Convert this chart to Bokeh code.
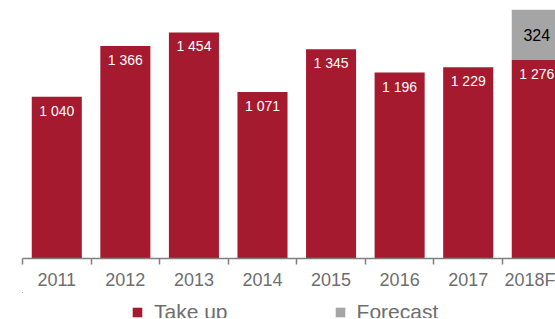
from bokeh.plotting import figure
from bokeh.layouts import column
from bokeh.models import (Range1d, LinearAxis, FixedTicker, CustomJSTickFormatter,
                          ColumnDataSource, Legend, LegendItem)
from bokeh.embed import file_html
from bokeh.resources import INLINE
from bokeh.core.properties import value

years = ["2011", "2012", "2013", "2014", "2015", "2016", "2017", "2018F"]
take_up = [1040, 1366, 1454, 1071, 1345, 1196, 1229, 1276]
forecast = [0, 0, 0, 0, 0, 0, 0, 324]
series_names = ["Take up", "Forecast"]

RED = "#A61A30"
GREY = "#A5A5A5"
TXT = "#6E6E6E"
FONT = "Liberation Sans"

xpos = [i + 0.5 for i in range(len(years))]

def fmt(v):
    return "{:,}".format(v).replace(",", " ")

src = ColumnDataSource(dict(
    x=xpos,
    take_up=take_up,
    forecast=forecast,
    fc_top=[t + f for t, f in zip(take_up, forecast)],
    fc_mid=[t + f / 2 for t, f in zip(take_up, forecast)],
    tu_label=[fmt(v) for v in take_up],
    fc_label=[fmt(v) if v else "" for v in forecast],
))

p = figure(frame_width=533, frame_height=258, output_backend="svg", toolbar_location=None,
           x_range=Range1d(0, 7.773), y_range=Range1d(0, 1659),
           x_axis_type=None, y_axis_type=None,
           min_border_left=22, min_border_right=0, min_border_top=0,
           min_border_bottom=0)
p.outline_line_color = None
p.grid.visible = False
p.background_fill_color = "white"
p.border_fill_color = "white"

r_tu = p.vbar(x="x", bottom=0, top="take_up", width=0.73, source=src,
              fill_color=RED, line_color=None)
r_fc = p.vbar(x="x", bottom="take_up", top="fc_top", width=0.73, source=src,
              fill_color=GREY, line_color=None)

p.text(x="x", y="take_up", text="tu_label", source=src, text_color="white",
       text_font=value(FONT), text_font_size="14px", text_align="center",
       text_baseline="middle", y_offset=14)
p.text(x="x", y="fc_mid", text="fc_label", source=src, text_color="black",
       text_font=value(FONT), text_font_size="16px", text_align="center",
       text_baseline="middle")

# tick axis (category boundary ticks)
ax1 = LinearAxis(ticker=FixedTicker(ticks=list(range(len(years) + 1))),
                 formatter=CustomJSTickFormatter(code="return '';"))
ax1.axis_line_color = "#7F7F7F"
ax1.axis_line_width = 1.5
ax1.major_tick_line_color = "#7F7F7F"
ax1.major_tick_line_width = 1.5
ax1.major_tick_out = 6
ax1.major_tick_in = 0
ax1.minor_tick_line_color = None
ax1.major_label_standoff = 0
ax1.major_label_text_font_size = "1px"
p.add_layout(ax1, "below")

# category label axis
ax2 = LinearAxis(ticker=FixedTicker(ticks=xpos),
                 formatter=CustomJSTickFormatter(args=dict(labels=years),
                                                 code="return labels[Math.floor(tick)];"))
ax2.axis_line_color = None
ax2.major_tick_line_color = None
ax2.minor_tick_line_color = None
ax2.major_tick_out = 0
ax2.major_tick_in = 0
ax2.major_label_standoff = 5
ax2.major_label_text_font = FONT
ax2.major_label_text_font_size = "18px"
ax2.major_label_text_color = TXT
p.add_layout(ax2, "below")

# legend strip (its zero-width bar renderers only provide the legend swatches)
p2 = figure(width=555, height=26, output_backend="svg", toolbar_location=None,
            x_range=Range1d(100, 101), y_range=Range1d(-2, -1),
            x_axis_type=None, y_axis_type=None, min_border=0)
p2.outline_line_color = None
p2.grid.visible = False
l_tu = p2.vbar(x="x", top="take_up", width=0, source=src,
               fill_color=RED, line_color=None)
l_fc = p2.vbar(x="x", bottom="take_up", top="fc_top", width=0, source=src,
               fill_color=GREY, line_color=None)

legend = Legend(items=[LegendItem(label=series_names[0], renderers=[l_tu]),
                       LegendItem(label=series_names[1], renderers=[l_fc])],
                orientation="horizontal", location=(109, -6),
                glyph_width=12, glyph_height=12, label_standoff=11, spacing=106,
                label_text_font=FONT, label_text_font_size="21px",
                label_text_color=TXT, border_line_color=None,
                background_fill_alpha=0, padding=0, margin=0)
p2.add_layout(legend, "center")

open("out.html", "w").write(file_html(column(p, p2, spacing=0), INLINE))
